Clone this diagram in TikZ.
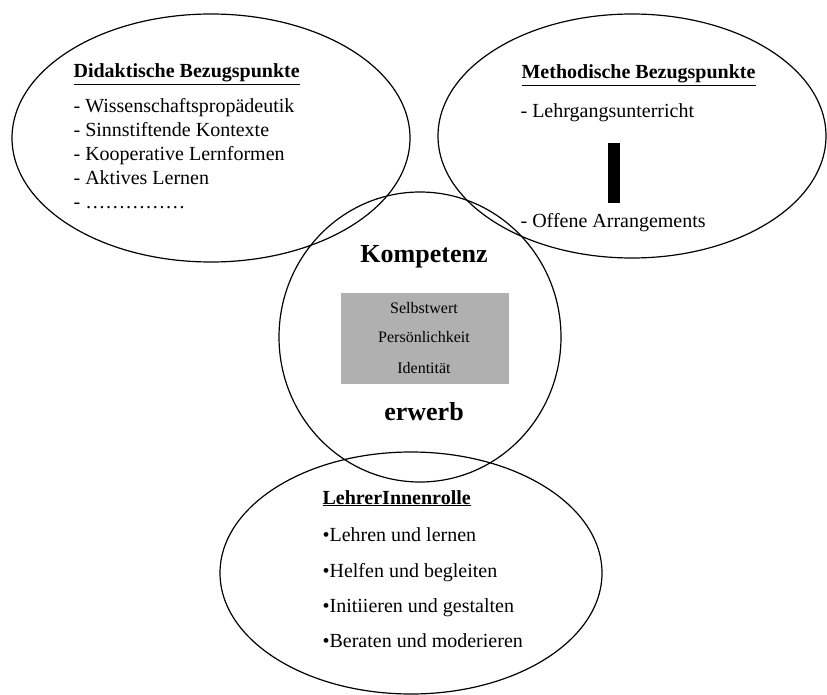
\documentclass[tikz,border=0pt]{standalone}
\usepackage{fontspec}
\setmainfont{Liberation Serif}
\usetikzlibrary{calc}

\tikzset{
	txt/.style={anchor=base west,inner sep=0pt,font=\fontsize{20}{24}\selectfont},
	head/.style={txt,font=\fontsize{20}{24}\selectfont\bfseries},
	big/.style={anchor=base,inner sep=0pt,font=\fontsize{26}{30}\selectfont\bfseries},
	small/.style={anchor=base,inner sep=0pt,font=\fontsize{16}{19}\selectfont}
}

\begin{document}
\begin{tikzpicture}[x=1pt,y=-1pt,line width=1.2pt]
			\useasboundingbox (0,0) rectangle (827,695);
			\coordinate (D) at (211,138);
			\coordinate (M) at (632,136);
			\coordinate (K) at (420,337);
			\coordinate (L) at (411,573);
			% grey box in the middle
			\fill[black!31] (341,293) rectangle (509,384);
			\draw (D) ellipse [x radius=199,y radius=124];
			\draw (M) ellipse [x radius=194,y radius=122];
			\draw (K) ellipse [x radius=141,y radius=145];
			\draw (L) ellipse [x radius=191,y radius=121];
			% didaktische
			\node (d0) at (73,78) [head]{\underline{Didaktische Bezugspunkte}};
			\node (d1) at (73,113) [txt]{- Wissenschaftspropädeutik};
			\node (d2) at (73,137) [txt]{- Sinnstiftende Kontexte};
			\node (d3) at (73,161) [txt]{- Kooperative Lernformen};
			\node (d4) at (73,185) [txt]{- Aktives Lernen};
			\node (d5) at (73,208) [txt]{- ……………};
			% methodische
			\node (m0) at (521,79) [head]{\underline{Methodische Bezugspunkte}};
			\node (m1) at (520,118) [txt]{- Lehrgangsunterricht};
			\node (m2) at (520,228) [txt]{- Offene Arrangements};
			\fill (608,143) rectangle (620,203);
			% kompetenz
			\node (k0) at (424,262) [big]{Kompetenz};
			\node (k1) at (424,313) [small]{Selbstwert};
			\node (k2) at (424,342) [small]{Persönlichkeit};
			\node (k3) at (424,373) [small]{Identität};
			\node (k4) at (424,420) [big]{erwerb};
			% lehrerinnen
			\node (l0) at (322,504) [head]{\underline{LehrerInnenrolle}};
			\node (l1) at (322,541) [txt]{•Lehren und lernen};
			\node (l2) at (322,577) [txt]{•Helfen und begleiten};
			\node (l3) at (322,612) [txt]{•Initiieren und gestalten};
			\node (l4) at (322,647) [txt]{•Beraten und moderieren};
		\end{tikzpicture}
\end{document}
